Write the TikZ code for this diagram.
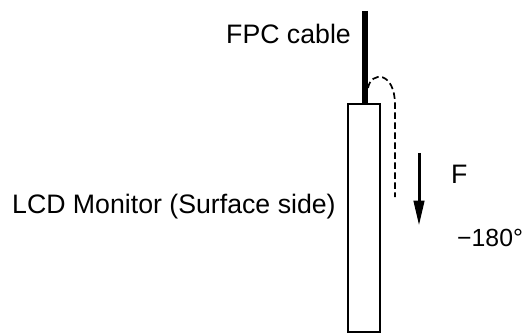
\documentclass[tikz,border=0pt]{standalone}
\usepackage{fontspec}
\setmainfont{Liberation Sans}
\usetikzlibrary{arrows.meta}
\tikzset{
  lbl/.style={inner sep=0pt,font=\fontsize{26.7}{30}\selectfont,anchor=base west},
  deglbl/.style={inner sep=0pt,font=\fontsize{24.8}{30}\selectfont,anchor=base west},
  monitor/.style={draw,line width=1.9pt,fill=white,anchor=north west,minimum width=32pt,minimum height=228pt,inner sep=0pt,outer sep=0pt},
  cableline/.style={line width=5.8pt},
  foldline/.style={line width=1.7pt,dash pattern=on 6.5pt off 3.5pt},
  forcearrow/.style={line width=3pt,-{Triangle[length=25pt,width=10.5pt]}}
}
\begin{document}
\begin{tikzpicture}[x=1pt,y=-1pt]
\useasboundingbox (0,0) rectangle (525,334);
\node[monitor] (mon) at (348.3,104) {};
\coordinate (ctop) at (364.8,11);
\coordinate (cbot) at (364.8,104);
\draw[cableline] (ctop) -- (cbot);
\coordinate (fa) at (368,88);
\coordinate (fb) at (395,197);
\draw[foldline] (fa) .. controls (371,71) and (395,71) .. (395,105) -- (fb);
\coordinate (aa) at (419,153);
\coordinate (ab) at (419,225.5);
\draw[forcearrow] (aa) -- (ab);
\node[lbl] (cab) at (226,44) {FPC cable};
\node[lbl] (lcd) at (12,214) {LCD Monitor (Surface side)};
\node[lbl] (f) at (451,184) {F};
\node[deglbl] (deg) at (457,246) {−180°};
\end{tikzpicture}
\end{document}
